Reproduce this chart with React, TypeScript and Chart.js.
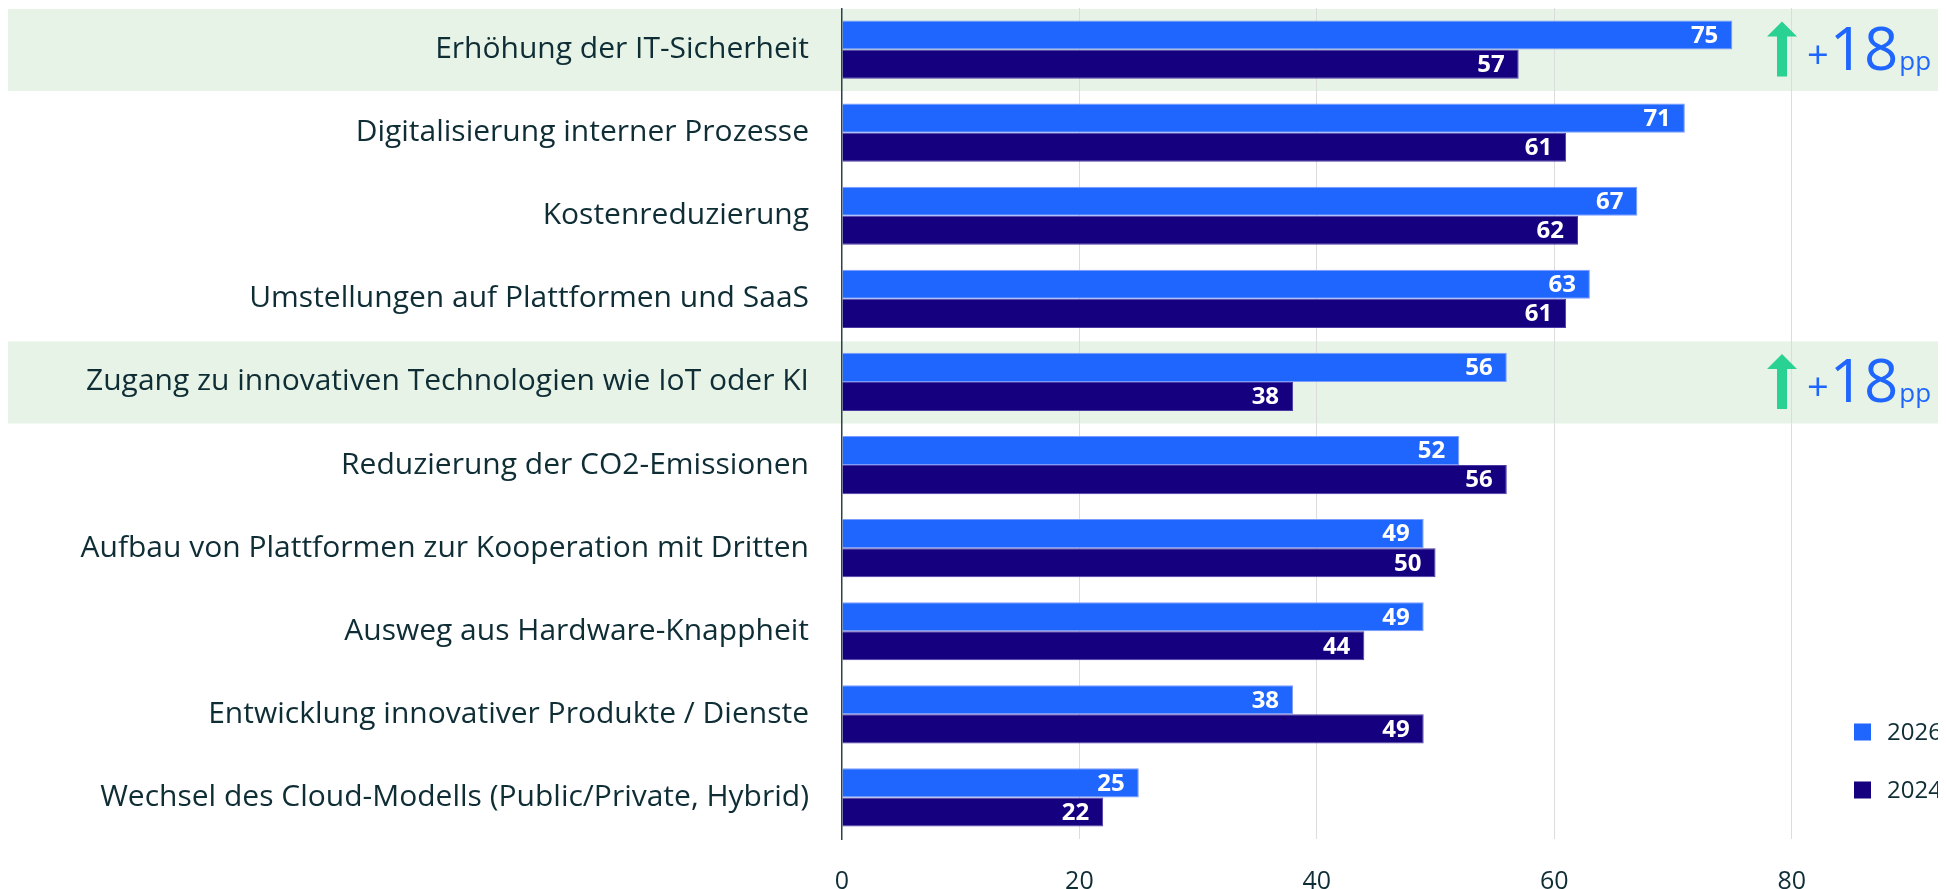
import React, { useEffect, useRef } from "react";
import { Chart, registerables } from "chart.js";

Chart.register(...registerables);

const categories = [
  "Erhöhung der IT-Sicherheit",
  "Digitalisierung interner Prozesse",
  "Kostenreduzierung",
  "Umstellungen auf Plattformen und SaaS",
  "Zugang zu innovativen Technologien wie IoT oder KI",
  "Reduzierung der CO2-Emissionen",
  "Aufbau von Plattformen zur Kooperation mit Dritten",
  "Ausweg aus Hardware-Knappheit",
  "Entwicklung innovativer Produkte / Dienste",
  "Wechsel des Cloud-Modells (Public/Private, Hybrid)",
];
const values2026 = [75, 71, 67, 63, 56, 52, 49, 49, 38, 25];
const values2024 = [57, 61, 62, 61, 38, 56, 50, 44, 49, 22];
const seriesLabels = ["2026", "2024"];
const xTickValues = [0, 20, 40, 60, 80];
const highlightIndexes = [0, 4];
const highlightDeltas = ["+18", "+18"];
const deltaUnit = "pp";

const BLUE = "#1f66ff";
const NAVY = "#15007f";
const TEXT = "#0f2d35";
const BAND = "#e6f3e6";
const GREEN = "#29d192";
const FONT = "'Open Sans', sans-serif";

export default function App() {
  const ref = useRef<HTMLCanvasElement | null>(null);

  useEffect(() => {
    document.documentElement.style.overflow = "hidden";
    document.body.style.overflow = "hidden";
    const canvas = ref.current!;

    const bandPlugin = {
      id: "bands",
      beforeDraw(chart: any) {
        const { ctx, scales } = chart;
        const y = scales.y;
        const step = y.getPixelForValue(1) - y.getPixelForValue(0);
        ctx.save();
        ctx.fillStyle = BAND;
        highlightIndexes.forEach((i) => {
          const c = y.getPixelForValue(i);
          ctx.fillRect(0, c - step / 2 + 1, chart.width, step - 1);
        });
        ctx.restore();
      },
    };

    const labelsPlugin = {
      id: "valueLabels",
      afterDatasetsDraw(chart: any) {
        const { ctx } = chart;
        ctx.save();
        ctx.font = `700 24px ${FONT}`;
        ctx.fillStyle = "#ffffff";
        ctx.textAlign = "right";
        ctx.textBaseline = "middle";
        chart.data.datasets.forEach((ds: any, di: number) => {
          const meta = chart.getDatasetMeta(di);
          meta.data.forEach((bar: any, i: number) => {
            ctx.fillText(String(ds.data[i]), bar.x - 14, bar.y + 1);
          });
        });
        ctx.restore();
      },
    };

    const overlayPlugin = {
      id: "overlay",
      afterDraw(chart: any) {
        const { ctx, chartArea, scales } = chart;
        const y = scales.y;
        ctx.save();
        highlightIndexes.forEach((i, k) => {
          const c = y.getPixelForValue(i);
          const ax = chartArea.right - 164;
          ctx.fillStyle = GREEN;
          ctx.beginPath();
          ctx.moveTo(ax, c - 28);
          ctx.lineTo(ax + 15, c - 13);
          ctx.lineTo(ax + 5, c - 13);
          ctx.lineTo(ax + 5, c + 27);
          ctx.lineTo(ax - 5, c + 27);
          ctx.lineTo(ax - 5, c - 13);
          ctx.lineTo(ax - 15, c - 13);
          ctx.closePath();
          ctx.fill();

          ctx.fillStyle = BLUE;
          ctx.textBaseline = "alphabetic";
          ctx.textAlign = "left";
          const txt = highlightDeltas[k];
          const sign = txt.slice(0, 1);
          const num = txt.slice(1);
          let x = chartArea.right - 139;
          ctx.font = `400 38px ${FONT}`;
          ctx.fillText(sign, x, c + 18);
          x += ctx.measureText(sign).width + 1;
          ctx.font = `400 60px ${FONT}`;
          ctx.fillText(num, x, c + 20);
          x += ctx.measureText(num).width + 1;
          ctx.font = `400 26px ${FONT}`;
          ctx.fillText(deltaUnit, x, c + 20);
        });
        const lx = chartArea.right - 92;
        const colors = [BLUE, NAVY];
        const lys = [chartArea.bottom - 107, chartArea.bottom - 49];
        ctx.font = `400 24px ${FONT}`;
        ctx.textAlign = "left";
        ctx.textBaseline = "middle";
        seriesLabels.forEach((lab, i) => {
          ctx.fillStyle = colors[i];
          ctx.fillRect(lx, lys[i] - 8.5, 17, 17);
          ctx.fillStyle = TEXT;
          ctx.fillText(lab, lx + 33, lys[i] + 1);
        });
        ctx.restore();
      },
    };

    const chart = new Chart(canvas, {
      type: "bar",
      data: {
        labels: categories,
        datasets: [
          {
            label: seriesLabels[0],
            data: values2026,
            backgroundColor: BLUE,
            borderColor: "#7d9cff",
            borderWidth: 1,
            barPercentage: 1,
            categoryPercentage: 0.7,
          },
          {
            label: seriesLabels[1],
            data: values2024,
            backgroundColor: NAVY,
            borderColor: "#4b3aa6",
            borderWidth: 1,
            barPercentage: 1,
            categoryPercentage: 0.7,
          },
        ],
      },
      options: {
        indexAxis: "y",
        responsive: false,
        animation: false,
        layout: { padding: { top: 0, left: 0, bottom: 0, right: 22 } },
        plugins: {
          legend: { display: false },
          tooltip: { enabled: false },
        },
        scales: {
          x: {
            type: "linear",
            position: "bottom",
            min: 0,
            max: 93,
            afterBuildTicks: (scale: any) => {
              scale.ticks = xTickValues.map((v) => ({ value: v }));
            },
            afterFit: (scale: any) => {
              scale.height = 50;
              scale.paddingLeft = 0;
              scale.paddingRight = 0;
            },
            ticks: {
              font: { family: FONT, size: 25 },
              color: TEXT,
              padding: 28,
            },
            grid: {
              drawTicks: false,
              color: (ctx: any) =>
                ctx.tick && ctx.tick.value === 0 ? "rgba(0,0,0,0)" : "#dcdcdc",
              lineWidth: 1,
            },
            border: { display: false },
          },
          y: {
            type: "category",
            afterFit: (scale: any) => {
              scale.width = 834;
              scale.paddingTop = 0;
              scale.paddingBottom = 0;
            },
            ticks: {
              font: { family: FONT, size: 30 },
              color: TEXT,
              padding: 33,
            },
            grid: { display: false, drawTicks: false },
            border: { display: true, color: "#2a4248", width: 1.5 },
          },
        },
      },
      plugins: [bandPlugin, labelsPlugin, overlayPlugin],
    } as any);

    return () => chart.destroy();
  }, []);

  return (
    <div style={{ width: 1938, height: 881, overflow: "visible" }}>
      <canvas ref={ref} width={1960} height={881} style={{ display: "block" }} />
    </div>
  );
}
